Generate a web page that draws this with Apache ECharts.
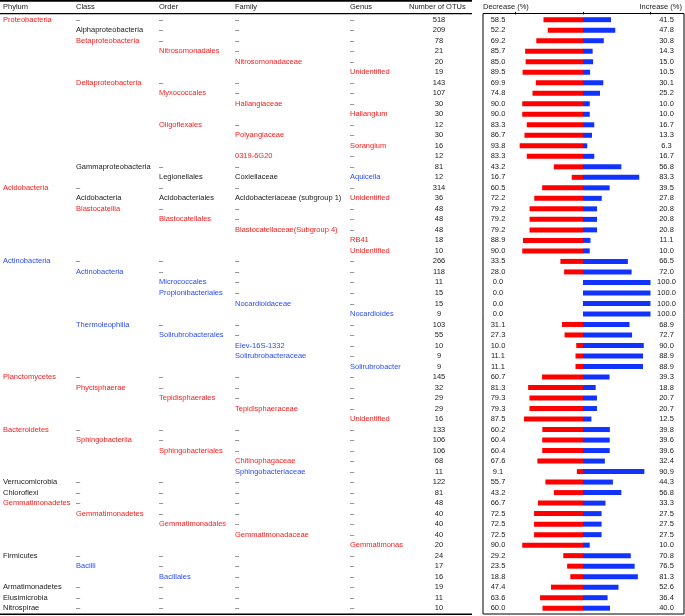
<!DOCTYPE html>
<html><head><meta charset="utf-8">
<script src="https://cdn.jsdelivr.net/npm/echarts@6/dist/echarts.min.js"></script>
<style>html,body{margin:0;padding:0;background:#fff}#c{width:685px;height:616px}</style>
</head><body><div id="c"></div>
<script>
// '-' = dash cell, '' = blank cell
const phylum = ['Proteobacteria','','','','','','','','','','','','','','','','Acidobacteria','','','','','','','Actinobacteria','','','','','','','','','','','Planctomycetes','','','','','Bacteroidetes','','','','','Verrucomicrobia','Chloroflexi','Gemmatimonadetes','','','','','Firmicutes','','','Armatimonadetes','Elusimicrobia','Nitrospirae'];
const classes = ['-','Alphaproteobacteria','Betaproteobacteria','','','','Deltaproteobacteria','','','','','','','','Gammaproteobacteria','','-','Acidobacteria','Blastocatellia','','','','','-','Actinobacteria','','','','','Thermoleophilia','','','','','-','Phycisphaerae','','','','-','Sphingobacteriia','','','','-','-','-','Gemmatimonadetes','','','','-','Bacilli','','-','-','-'];
const orders = ['-','-','-','Nitrosomonadales','','','-','Myxococcales','','','Oligoflexales','','','','-','Legionellales','-','Acidobacteriales','-','Blastocatellales','','','','-','-','Micrococcales','Propionibacteriales','','','-','Solirubrobacterales','','','','-','-','Tepidisphaerales','','','-','-','Sphingobacteriales','','','-','-','-','-','Gemmatimonadales','','','-','-','Bacillales','-','-','-'];
const families = ['-','-','-','-','Nitrosomonadaceae','','-','-','Haliangiaceae','','-','Polyangiaceae','','0319-6G20','-','Coxiellaceae','-','Acidobacteriaceae (subgroup 1)','-','-','Blastocatellaceae(Subgroup 4)','','','-','-','-','-','Nocardioidaceae','','-','-','Elev-16S-1332','Solirubrobacteraceae','','-','-','-','Tepidisphaeraceae','','-','-','-','Chitinophagaceae','Sphingobacteriaceae','-','-','-','-','-','Gemmatimonadaceae','','-','-','-','-','-','-'];
const genera = ['-','-','-','-','-','Unidentified','-','-','-','Haliangium','-','-','Sorangium','-','-','Aquicella','-','Unidentified','-','-','-','RB41','Unidentified','-','-','-','-','-','Nocardioides','-','-','-','-','Solirubrobacter','-','-','-','-','Unidentified','-','-','-','-','-','-','-','-','-','-','-','Gemmatimonas','-','-','-','-','-','-'];
const otus = [518,209,78,21,20,19,143,107,30,30,12,30,16,12,81,12,314,36,48,48,48,18,10,266,118,11,15,15,9,103,55,10,9,9,145,32,29,29,16,133,106,106,68,11,122,81,48,40,40,40,20,24,17,16,19,11,10];
const decrease = [58.5,52.2,69.2,85.7,85.0,89.5,69.9,74.8,90.0,90.0,83.3,86.7,93.8,83.3,43.2,16.7,60.5,72.2,79.2,79.2,79.2,88.9,90.0,33.5,28.0,0.0,0.0,0.0,0.0,31.1,27.3,10.0,11.1,11.1,60.7,81.3,79.3,79.3,87.5,60.2,60.4,60.4,67.6,9.1,55.7,43.2,66.7,72.5,72.5,72.5,90.0,29.2,23.5,18.8,47.4,63.6,60.0];
const increase = [41.5,47.8,30.8,14.3,15.0,10.5,30.1,25.2,10.0,10.0,16.7,13.3,6.3,16.7,56.8,83.3,39.5,27.8,20.8,20.8,20.8,11.1,10.0,66.5,72.0,100.0,100.0,100.0,100.0,68.9,72.7,90.0,88.9,88.9,39.3,18.8,20.7,20.7,12.5,39.8,39.6,39.6,32.4,90.9,44.3,56.8,33.3,27.5,27.5,27.5,10.0,70.8,76.5,81.3,52.6,36.4,40.0];
// significance of the row's taxon: 'd' decreased, 'i' increased, '' none
const signif = ['d','','d','d','d','d','d','d','d','d','d','d','d','d','','i','d','d','d','d','d','d','d','i','i','i','i','i','i','i','i','i','i','i','d','d','d','d','d','d','d','d','d','i','','','d','d','d','d','d','','i','i','','',''];
const headers = ['Phylum','Class','Order','Family','Genus','Number of OTUs','Decrease (%)','Increase (%)'];

const RED='#ff1a1a', BLUE='#2a4bff', INK='#1a1a1a', DASHC='#333';
const FONT='Liberation Sans, Arial, Helvetica, sans-serif', FS=7.5;
const cols=[phylum,classes,orders,families,genera];
const colX=[3,76,159,235,350];
const rows = otus.map((_,i)=>String(i));

function deepest(i){let d=-1;cols.forEach((c,k)=>{if(c[i]&&c[i]!=='-')d=k;});return d;}

function textSeries(getText, getColor, x, align){
  return {type:'custom',coordinateSystem:'cartesian2d',clip:false,silent:true,z:5,
    data: rows.map((r,i)=>[0,i]),
    renderItem(params, api){
      const i=params.dataIndex;
      const t=getText(i);
      if(!t) return null;
      const y=api.coord([0,i])[1];
      return {type:'text',x:x,y:y,style:{text:t,fill:getColor(i),fontSize:FS,fontFamily:FONT,align:align,verticalAlign:'middle'}};
    }};
}
const sigColor=s=>s==='d'?RED:(s==='i'?BLUE:INK);
const series=[];
cols.forEach((c,k)=>{
  series.push(textSeries(i=>c[i]==='-'?'\u2013':c[i], i=>c[i]==='-'?DASHC:(deepest(i)===k?sigColor(signif[i]):INK), colX[k], 'left'));
});
series.push(textSeries(i=>String(otus[i]), ()=>INK, 439, 'center'));
series.push(textSeries(i=>decrease[i].toFixed(1), ()=>INK, 498, 'center'));
series.push(textSeries(i=>increase[i].toFixed(1), ()=>INK, 666.5, 'center'));
series.push({type:'bar',stack:'s',barWidth:5,silent:true,itemStyle:{color:'#ff0000'},data:decrease.map(v=>-v)});
series.push({type:'bar',stack:'s',barWidth:5,silent:true,itemStyle:{color:'#1033ff'},data:increase});

const graphic=[];
const hx=[3,76,159,235,350,409,483,682];
headers.forEach((h,k)=>graphic.push({type:'text',x:hx[k],y:7,style:{text:h,fill:INK,fontSize:FS,fontFamily:FONT,align:k===7?'right':'left',verticalAlign:'middle'}}));
graphic.push({type:'line',shape:{x1:0,y1:0.9,x2:472,y2:0.9},style:{stroke:'#000',lineWidth:1.6}});
graphic.push({type:'line',shape:{x1:0,y1:13.6,x2:472,y2:13.6},style:{stroke:'#000',lineWidth:1.4}});
graphic.push({type:'line',shape:{x1:0,y1:614.3,x2:472,y2:614.3},style:{stroke:'#000',lineWidth:1.5}});
graphic.push({type:'rect',shape:{x:483,y:13.5,width:201,height:600.5},style:{fill:null,stroke:'#000',lineWidth:1}});

const chart=echarts.init(document.getElementById('c'),null,{renderer:'canvas'});
chart.setOption({
  animation:false,
  grid:{left:515.5,width:135,top:14.45,height:599},
  xAxis:{type:'value',min:-100,max:100,interval:100,position:'top',
    axisLine:{show:false},splitLine:{show:false},axisLabel:{show:false},
    axisTick:{show:true,length:2.5,lineStyle:{color:'#000',width:1}}},
  yAxis:{type:'category',data:rows,inverse:true,show:false},
  series:series,
  graphic:graphic
});
</script></body></html>
